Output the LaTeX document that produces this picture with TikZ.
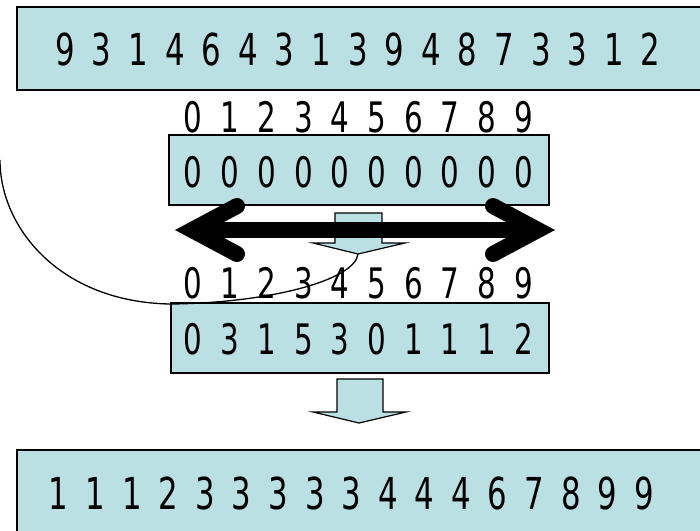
\documentclass[tikz,border=0pt]{standalone}
\usepackage{fontspec}
\newfontfamily\digitfont[FakeStretch=0.7]{DejaVu Sans}
\definecolor{cellfill}{HTML}{BBE0E3}
\tikzset{
  cellbox/.style={draw=black, fill=cellfill, line width=2pt, inner sep=0pt},
  bigrow/.style={inner sep=0pt, font={\digitfont\fontsize{44}{44}\selectfont\spaceskip=17pt\relax}},
  smallrow/.style={inner sep=0pt, font={\digitfont\fontsize{42}{42}\selectfont\spaceskip=18pt\relax}},
  blockarrow/.style={draw=black, fill=cellfill, line width=1.2pt, line join=miter},
  fatline/.style={line width=16pt, draw=black},
}
\begin{document}
\begin{tikzpicture}[x=1pt,y=-1pt]
  \useasboundingbox (0,0) rectangle (700,530);
  \clip (0,0) rectangle (700,530);

  % input sequence
  \node[cellbox, line width=2.6pt, minimum width=700pt, minimum height=83pt] (input) at (367,48.5) {};
  \node[bigrow] (inputText) at (358,49.5) {9 3 1 4 6 4 3 1 3 9 4 8 7 3 3 1 2};

  % empty count table
  \node[smallrow] (idxA) at (358.5,117.5) {0 1 2 3 4 5 6 7 8 9};
  \node[cellbox, minimum width=380pt, minimum height=70pt] (countA) at (359,170) {};
  \node[smallrow] (countAText) at (358.5,172.5) {0 0 0 0 0 0 0 0 0 0};

  % filled count table
  \node[smallrow] (idxB) at (358.5,283) {0 1 2 3 4 5 6 7 8 9};
  \node[cellbox, line width=2.2pt, minimum width=378pt, minimum height=70pt] (countB) at (360,338) {};
  \node[smallrow] (countBText) at (358.5,339) {0 3 1 5 3 0 1 1 1 2};

  % sorted output
  \node[cellbox, line width=2.6pt, minimum width=700pt, minimum height=100pt] (output) at (367,500) {};
  \node[bigrow] (outputText) at (351.5,493) {1 1 1 2 3 3 3 3 3 4 4 4 6 7 8 9 9};

  % block arrows between the stages
  \draw[blockarrow] (335,213) -- (382,213) -- (382,243) -- (405,243) -- (358,254)
        -- (313,243) -- (335,243) -- cycle;
  \coordinate (stepTip) at (358,254);
  \draw[blockarrow] (337,379) -- (383,379) -- (383,412) -- (406,412) -- (359,423)
        -- (313,412) -- (337,412) -- cycle;

  % two-headed scan arrow
  \coordinate (tipL) at (192,230);
  \coordinate (tipR) at (538,230);
  \draw[fatline] (tipL) -- (tipR);
  \draw[fatline, line cap=round, line join=miter] (237,206) -- (tipL) -- (237,254);
  \draw[fatline, line cap=round, line join=miter] (493,206) -- (tipR) -- (493,254);

  % curved connector into the block arrow
  \coordinate (curveStart) at (0,160);
  \coordinate (curveMid) at (170,304);
  \draw[line width=1.3pt] (curveStart) .. controls (0,228) and (60,302) .. (curveMid)
        .. controls (270,303) and (355,280) .. (stepTip);
\end{tikzpicture}
\end{document}
